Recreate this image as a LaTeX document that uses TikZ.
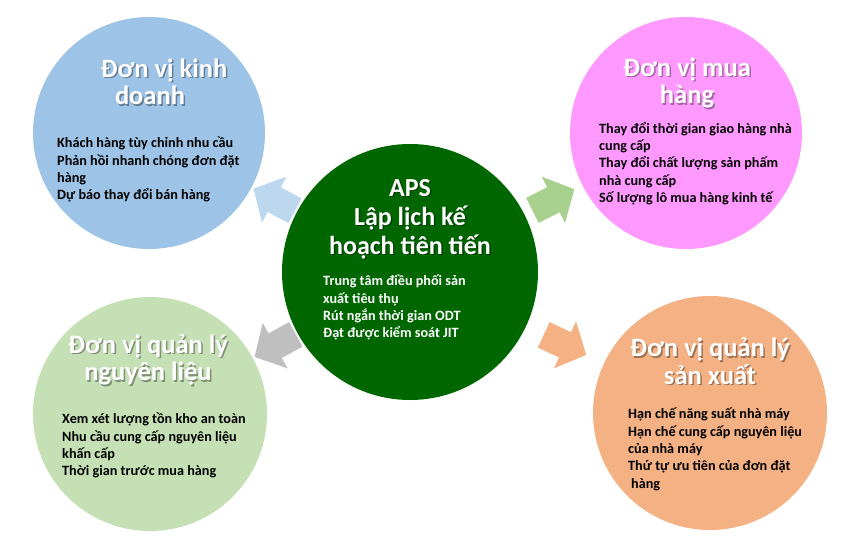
\documentclass[tikz,border=0pt]{standalone}
\usepackage{fontspec}
\setmainfont{Carlito}

\definecolor{kdfill}{HTML}{9DC3E6}
\definecolor{kdarrow}{HTML}{BDD7EE}
\definecolor{mhfill}{HTML}{FF99FF}
\definecolor{mharrow}{HTML}{A9D18E}
\definecolor{apsfill}{HTML}{006600}
\definecolor{nlfill}{HTML}{C5E0B4}
\definecolor{nlarrow}{HTML}{BFBFBF}
\definecolor{sxfill}{HTML}{F4B183}

% white title with a soft dark shadow behind it
\newcommand\unithead[4][heading]{%
  \node[#1, text=black, opacity=.35] (#2-sh) at ([shift={(1.5,-1.5)}]#3) {#4};
  \node[#1] (#2) at (#3) {#4};}

\begin{document}
\begin{tikzpicture}[x=1pt, y=1pt,
    every node/.style = {inner sep=0pt, font=\bfseries},
    unit/.style = {circle, minimum size=#1},
    heading/.style = {align=center, text=white,
      font=\bfseries\fontsize{26.5}{27.5}\selectfont},
    apshead/.style = {heading, font=\bfseries\fontsize{26}{29}\selectfont},
    body/.style = {anchor=north west, align=left,
      font=\bfseries\fontsize{14.2}{17.3}\selectfont},
    flowarrow/.pic = {\fill[#1] (-23.5,-14) -- (0,-14) -- (0,-26) -- (23.5,0)
      -- (0,26) -- (0,14) -- (-23.5,14) -- cycle;},
    flow/.style = {midway, sloped, allow upside down}]
  \useasboundingbox (0,0) rectangle (848,550);

  \node[unit=232pt, fill=kdfill] (kd) at (149,417) {};
  \node[unit=232pt, fill=mhfill] (mh) at (686,417) {};
  \node[unit=256pt, fill=apsfill] (aps) at (410,278) {};
  \node[unit=234pt, fill=nlfill] (nl) at (150,136) {};
  \node[unit=234pt, fill=sxfill] (sx) at (710,137) {};

  \path (aps) -- (kd) pic[flow] (to-kd) {flowarrow=kdarrow};
  \path (aps) -- (mh) pic[flow] (to-mh) {flowarrow=mharrow};
  \path (aps) -- (nl) pic[flow] (to-nl) {flowarrow=nlarrow};
  \path (aps) -- (sx) pic[flow] (to-sx) {flowarrow=sxfill};

  \unithead{kd-title}{150,468}{\hspace*{28pt}Đơn vị kinh\\doanh}
  \node[body] (kd-text) at (57,413) {Khách hàng tùy chỉnh nhu cầu\\
    Phản hồi nhanh chóng đơn đặt\\hàng\\Dự báo thay đổi bán hàng};

  \unithead{mh-title}{687,467}{Đơn vị mua\\hàng}
  \node[body] (mh-text) at (599,428) {Thay đổi thời gian giao hàng nhà\\
    cung cấp\\Thay đổi chất lượng sản phấm\\nhà cung cấp\\
    Số lượng lô mua hàng kinh tế};

  \unithead[apshead]{aps-title}{410,331}{APS\\Lập lịch kế\\hoạch tiên tiến}
  \node[body, text=white] (aps-text) at (323,275) {Trung tâm điều phối sản\\
    xuất tiêu thụ\\Rút ngắn thời gian ODT\\Đạt được kiểm soát JIT};

  \unithead{nl-title}{148,190}{Đơn vị quản lý\\nguyên liệu}
  \node[body] (nl-text) at (62,137) {Xem xét lượng tồn kho an toàn\\
    Nhu cầu cung cấp nguyên liệu\\khấn cấp\\Thời gian trước mua hàng};

  \unithead{sx-title}{710,189}{Đơn vị quản lý\\sản xuất}
  \node[body] (sx-text) at (628,142) {Hạn chế năng suất nhà máy\\
    Hạn chế cung cấp nguyên liệu\\của nhà máy\\Thứ tự ưu tiên của đơn đặt\\
    \hspace{3pt}hàng};
\end{tikzpicture}
\end{document}
